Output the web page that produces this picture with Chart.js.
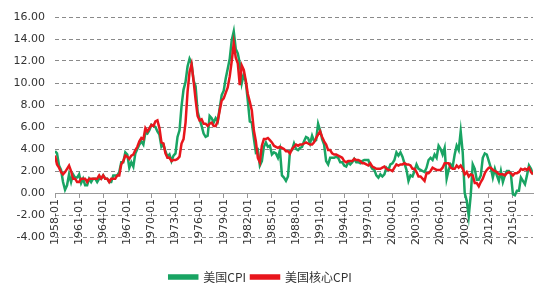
<!DOCTYPE html>
<html>
<head>
<meta charset="utf-8">
<script src="https://cdn.jsdelivr.net/npm/chart.js@4/dist/chart.umd.min.js"></script>
<style>
  html, body { margin: 0; padding: 0; background: #fff; }
  #wrap { width: 550px; height: 300px; }
</style>
</head>
<body>
<div id="wrap"><canvas id="cpi-chart" width="550" height="300"></canvas></div>
<script>
// quarterly readings (Jan, Apr, Jul, Oct), 1958-01 .. 2017-07
const startYear = 1958;

const cpi = [
  3.8, 3.6, 2.5, 2.1,   1.0, 0.3, 0.7, 1.7,   1.0, 1.7, 1.4, 1.4,   1.7, 0.9, 1.3, 0.7,
  0.7, 1.3, 1.0, 1.3,   1.3, 1.0, 1.3, 1.3,   1.6, 1.3, 1.3, 1.0,   1.0, 1.6, 1.6, 1.6,
  1.9, 2.8, 2.8, 3.7,   3.5, 2.3, 2.8, 2.4,   3.6, 4.0, 4.4, 4.7,   4.4, 5.5, 5.4, 5.7,
  6.2, 6.1, 6.0, 5.6,   5.3, 4.2, 4.4, 3.8,   3.3, 3.5, 2.9, 3.4,   3.6, 5.1, 5.7, 7.9,
  9.4, 10.1, 11.5, 12.2, 11.8, 10.2, 9.7, 7.4, 6.7, 6.1, 5.4, 5.1,  5.2, 7.0, 6.8, 6.4,
  6.8, 6.5, 7.7, 8.9,   9.3, 10.4, 11.3, 12.2, 13.9, 14.7, 13.1, 12.7, 11.8, 10.0, 10.8, 10.1,
  8.4, 6.5, 6.4, 5.0,   3.7, 3.9, 2.5, 2.9,   4.2, 4.6, 4.2, 4.3,   3.5, 3.7, 3.6, 3.2,
  3.9, 1.6, 1.4, 1.1,   1.5, 3.8, 3.9, 4.5,   4.0, 3.9, 4.1, 4.2,   4.7, 5.1, 5.0, 4.5,
  5.2, 4.7, 4.8, 6.3,   5.7, 4.9, 4.4, 2.9,   2.6, 3.2, 3.2, 3.2,   3.3, 3.2, 2.8, 2.8,
  2.5, 2.4, 2.8, 2.6,   2.8, 3.1, 2.8, 2.8,   2.7, 2.9, 3.0, 3.0,   3.0, 2.5, 2.2, 2.1,
  1.6, 1.4, 1.7, 1.5,   1.7, 2.3, 2.1, 2.6,   2.7, 3.0, 3.7, 3.4,   3.7, 3.3, 2.7, 2.1,
  1.1, 1.6, 1.5, 2.0,   2.6, 2.2, 2.1, 2.0,   1.9, 2.3, 3.0, 3.2,   3.0, 3.5, 3.2, 4.3,
  4.0, 3.5, 4.1, 1.3,   2.1, 2.6, 2.4, 3.5,   4.3, 3.9, 5.6, 3.7,   0.0, -0.7, -2.1, -0.2,
  2.6, 2.2, 1.2, 1.2,   1.6, 3.2, 3.6, 3.5,   2.9, 2.3, 1.4, 2.2,   1.6, 1.1, 2.0, 1.0,
  1.6, 2.0, 2.0, 1.7,   -0.1, -0.2, 0.2, 0.2, 1.4, 1.1, 0.8, 1.6,   2.5, 2.2, 1.7
];

const coreCpi = [
  3.4, 2.6, 2.3, 1.9,   1.7, 1.9, 2.2, 2.5,   2.0, 1.3, 1.3, 1.0,   1.0, 1.3, 1.3, 1.3,
  1.0, 1.3, 1.3, 1.3,   1.3, 1.3, 1.6, 1.3,   1.6, 1.3, 1.3, 1.0,   1.3, 1.3, 1.3, 1.6,
  1.6, 2.6, 2.9, 3.4,   3.3, 3.1, 3.4, 3.5,   3.9, 4.2, 4.7, 5.0,   4.9, 5.9, 5.6, 5.9,
  6.2, 6.1, 6.5, 6.6,   5.9, 4.6, 4.5, 3.6,   3.2, 3.2, 2.9, 3.0,   3.0, 3.1, 3.3, 4.5,
  4.9, 6.4, 9.2, 11.0,  11.7, 10.2, 8.5, 7.0, 6.6, 6.7, 6.3, 6.3,   6.1, 6.3, 6.4, 6.1,
  6.1, 6.5, 7.5, 8.4,   8.6, 9.1, 9.6, 10.6,  12.0, 13.6, 12.3, 11.8, 9.8, 11.6, 11.2, 10.2,
  9.0, 8.3, 7.5, 5.7,   4.7, 3.2, 2.8, 4.3,   4.9, 4.9, 5.0, 4.8,   4.6, 4.3, 4.2, 4.1,
  4.2, 4.1, 4.0, 3.8,   3.8, 3.6, 4.0, 4.2,   4.4, 4.3, 4.4, 4.4,   4.5, 4.6, 4.5, 4.4,
  4.4, 4.6, 5.0, 5.3,   5.6, 5.1, 4.7, 4.4,   3.9, 3.9, 3.6, 3.5,   3.5, 3.4, 3.3, 3.2,
  2.9, 2.8, 2.9, 2.9,   2.9, 3.1, 3.0, 3.0,   2.9, 2.7, 2.7, 2.6,   2.5, 2.7, 2.4, 2.3,
  2.2, 2.2, 2.2, 2.3,   2.4, 2.2, 2.1, 2.1,   2.0, 2.3, 2.6, 2.5,   2.6, 2.6, 2.7, 2.6,
  2.6, 2.5, 2.2, 2.2,   1.9, 1.5, 1.5, 1.3,   1.1, 1.8, 1.8, 2.0,   2.3, 2.2, 2.1, 2.1,
  2.1, 2.3, 2.7, 2.7,   2.7, 2.3, 2.2, 2.2,   2.5, 2.3, 2.5, 2.2,   1.7, 1.9, 1.5, 1.7,
  1.6, 0.9, 0.9, 0.6,   1.0, 1.3, 1.8, 2.1,   2.3, 2.3, 2.1, 2.0,   1.9, 1.7, 1.7, 1.7,
  1.6, 1.8, 1.9, 1.8,   1.6, 1.8, 1.8, 1.9,   2.2, 2.1, 2.2, 2.1,   2.3, 1.9, 1.7
];

const tickLabels = [
  "1958-01", "1961-01", "1964-01", "1967-01", "1970-01", "1973-01", "1976-01", "1979-01",
  "1982-01", "1985-01", "1988-01", "1991-01", "1994-01", "1997-01", "2000-01", "2003-01",
  "2006-01", "2009-01", "2012-01", "2015-01"
];

const seriesNames = ["美国CPI", "美国核心CPI"];

// months since 1958-01 for each reading and each tick
const months = cpi.map((v, i) => i * 3);
const tickMonths = tickLabels.map(s => (parseInt(s.slice(0, 4)) - startYear) * 12);

const pts = arr => arr.map((v, i) => ({ x: months[i], y: v }));

new Chart(document.getElementById("cpi-chart"), {
  type: "line",
  data: {
    datasets: [
      {
        label: seriesNames[0],
        data: pts(cpi),
        borderColor: "#19a463",
        backgroundColor: "#19a463",
        borderWidth: 2.5,
        pointRadius: 0,
        order: 1
      },
      {
        label: seriesNames[1],
        data: pts(coreCpi),
        borderColor: "#e8161c",
        backgroundColor: "#e8161c",
        borderWidth: 2.5,
        pointRadius: 0,
        order: 0
      }
    ]
  },
  options: {
    responsive: false,
    animation: false,
    // negative left padding pulls the centred legend a bit to the left
    layout: { padding: { left: -12, right: 17, top: 17, bottom: 7 } },
    plugins: {
      tooltip: { enabled: false },
      legend: {
        position: "bottom",
        labels: {
          sort: (a, b) => a.datasetIndex - b.datasetIndex,
          boxWidth: 28,
          boxHeight: 3,
          padding: 5,
          color: "#333",
          font: { family: "'Noto Sans CJK SC', 'DejaVu Sans'", size: 12 }
        }
      }
    },
    scales: {
      x: {
        type: "linear",
        position: { y: 0 },
        min: 0,
        max: months[months.length - 1],
        afterBuildTicks: axis => { axis.ticks = tickMonths.map(v => ({ value: v })); },
        grid: { display: true, drawOnChartArea: false, drawTicks: true, tickLength: 4, color: "#999" },
        border: { display: true, color: "#999", width: 1 },
        ticks: {
          autoSkip: false,
          minRotation: 90,
          maxRotation: 90,
          padding: 2,
          color: "#333",
          font: { family: "'DejaVu Sans'", size: 11 },
          callback: (v, i) => tickLabels[i]
        }
      },
      // empty axis that only keeps room between plot and legend
      gap: {
        type: "linear",
        axis: "x",
        position: "bottom",
        grid: { display: false },
        border: { display: false },
        ticks: { display: false },
        afterFit: axis => { axis.height = 29; }
      },
      y: {
        min: -4,
        max: 16,
        afterFit: axis => { axis.width = 67; },
        grid: { color: "#8a8a8a", drawTicks: false, borderDash: [4, 3] },
        border: { display: false, dash: [4, 3] },
        ticks: {
          stepSize: 2,
          padding: 10,
          color: "#333",
          font: { family: "'DejaVu Sans'", size: 11 },
          callback: v => v.toFixed(2)
        }
      }
    }
  }
});
</script>
</body>
</html>
